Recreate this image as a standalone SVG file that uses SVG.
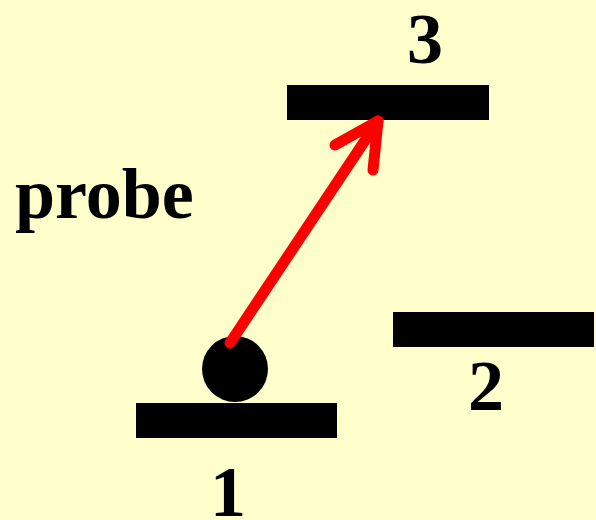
<svg xmlns="http://www.w3.org/2000/svg" width="596" height="520" viewBox="0 0 596 520">
<style>
text{font-family:"Liberation Serif","Times New Roman",serif;font-weight:bold;font-size:72px;fill:#000}
.bar{fill:#000}
.arrow{stroke:#ff0000;stroke-width:11;fill:none;stroke-linecap:round;stroke-linejoin:round}
</style>
<rect x="0" y="0" width="596" height="520" fill="#ffffcc"/>
<g id="level3"><rect class="bar" x="287" y="85" width="202" height="35"/><text x="425" y="63" text-anchor="middle">3</text></g>
<g id="level2"><rect class="bar" x="393" y="312" width="201" height="35"/><text x="486" y="410" text-anchor="middle">2</text></g>
<g id="level1"><rect class="bar" x="136" y="403" width="201" height="35"/><text x="228" y="516" text-anchor="middle">1</text></g>
<g id="population"><circle cx="235" cy="369" r="33" fill="#000"/></g>
<g id="label"><text x="15" y="218">probe</text></g>
<g id="connectors">
<line class="arrow" x1="230" y1="343" x2="378" y2="121"/>
<polyline class="arrow" points="335,145 378,121 373,170"/>
</g>
</svg>
